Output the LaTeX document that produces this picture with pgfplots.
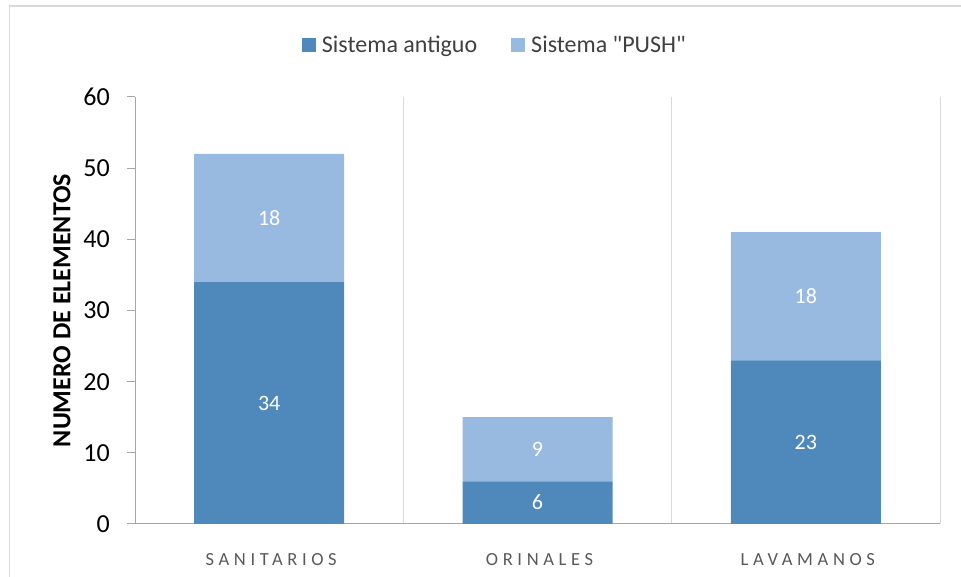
\documentclass[border=0pt]{standalone}
\usepackage{fontspec}
\setmainfont{Carlito}
\newfontfamily\spaced{Carlito}[LetterSpace=25]
\newfontfamily\legfont{Carlito}[Ligatures=ResetAll]
\usepackage{pgfplots}
\pgfplotsset{compat=1.18}
\definecolor{darkb}{HTML}{4F88BB}
\definecolor{lightb}{HTML}{98B9E0}
\definecolor{gridc}{HTML}{D9D9D9}
\definecolor{axc}{HTML}{A6A6A6}
\definecolor{txtg}{HTML}{595959}
\definecolor{legg}{HTML}{404040}
\begin{document}
\begin{tikzpicture}[x=1bp,y=1bp]
\path[use as bounding box] (0,0) rectangle (961,577);
\draw[gridc, line width=1.2bp] (9.5,0) -- (9.5,571) -- (961,571);
\begin{axis}[
  at={(135bp,53bp)}, anchor=south west,
  scale only axis, width=805bp, height=427bp,
  xmin=-0.5, xmax=2.5, ymin=0, ymax=60,
  ybar stacked, bar width=150bp,
  axis lines*=left,
  axis line style={draw=axc, line width=1bp},
  ytick={0,10,...,60},
  xtick={0,1,2}, xticklabels={SANITARIOS,ORINALES,LAVAMANOS},
  x tick style={draw=none},
  minor xtick={0.5,1.5,2.5},
  minor x grid style={draw=gridc, line width=1bp},
  xminorgrids=true,
  y tick style={draw=axc, line width=1bp},
  tick align=outside, major tick length=8bp, minor tick length=0pt,
  /pgf/number format/assume math mode=true,
  yticklabel style={font=\fontsize{26bp}{30bp}\selectfont, anchor=east, inner sep=0pt, xshift=-17bp},
  xticklabel style={font=\spaced\fontsize{18.5bp}{22bp}\selectfont, text=txtg, anchor=base, inner sep=0pt, yshift=-34bp, xshift=2bp},
  ylabel={NUMERO DE ELEMENTOS},
  ylabel style={font=\bfseries\fontsize{26bp}{30bp}\selectfont, at={(axis description cs:-0.0907,0.5)}, anchor=center},
  legend style={at={(axis description cs:0.447,1.122)}, anchor=center, draw=none, legend columns=2,
    font=\legfont\fontsize{24bp}{28bp}\selectfont, text=legg, inner sep=0pt,
    /tikz/every even column/.append style={column sep=32bp}, cells={anchor=west}},
  legend image code/.code={\fill[#1] (0bp,-7bp) rectangle (14bp,7bp); \path (18bp,0bp);},
]
\addplot[fill=darkb, draw=none] coordinates {(0,34) (1,6) (2,23)};
\addplot[fill=lightb, draw=none] coordinates {(0,18) (1,9) (2,18)};
\legend{Sistema antiguo, Sistema "PUSH"}
\end{axis}
\begin{axis}[
  at={(135bp,53bp)}, anchor=south west,
  scale only axis, width=805bp, height=427bp,
  xmin=-0.5, xmax=2.5, ymin=0, ymax=60,
  hide axis,
]
\addplot[draw=none, mark=none, nodes near coords, point meta=explicit symbolic,
  nodes near coords align={anchor=center},
  every node near coord/.append style={font=\fontsize{22bp}{26bp}\selectfont, text=white}]
  coordinates {(0,17) [34] (1,3) [6] (2,11.5) [23] (0,43) [18] (1,10.5) [9] (2,32) [18]};
\end{axis}
\end{tikzpicture}
\end{document}
